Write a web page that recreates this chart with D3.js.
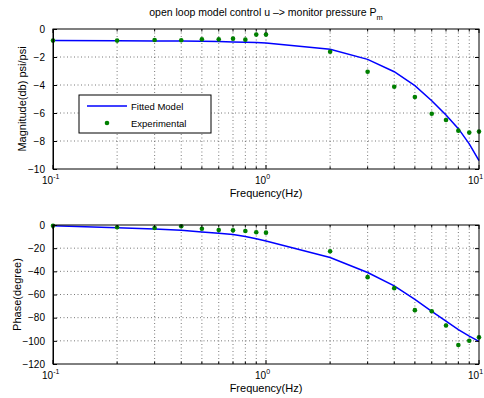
<!DOCTYPE html>
<html>
<head>
<meta charset="utf-8">
<script src="https://cdn.jsdelivr.net/npm/d3@7"></script>
<style>
  body { margin: 0; background: #fff; }
  svg { font-family: "Liberation Sans", Arial, sans-serif; }
  .grid line { stroke: #555; stroke-dasharray: 1,2.5; stroke-width: 0.8; }
</style>
</head>
<body>
<svg id="chart"></svg>
<script>
const freq = [0.1, 0.2, 0.3, 0.4, 0.5, 0.6, 0.7, 0.8, 0.9, 1, 2, 3, 4, 5, 6, 7, 8, 9, 10];

const magModel = [-0.83, -0.84, -0.85, -0.86, -0.88, -0.9, -0.92, -0.94, -0.97, -1.0,
                  -1.45, -2.17, -3.05, -4.05, -5.12, -6.14, -7.12, -8.2, -9.4];
const magExp = [-0.83, -0.83, -0.79, -0.8, -0.74, -0.74, -0.69, -0.76, -0.4, -0.4,
                -1.62, -3.05, -4.12, -4.86, -6.05, -6.5, -7.26, -7.4, -7.33];

const phaseModel = [-0.6, -2.3, -3.4, -4.6, -6, -7.2, -8.3, -10, -11.8, -13.8,
                    -28.1, -41, -52.5, -64.3, -74.5, -83, -90.4, -95.9, -100.5];
const phaseExp = [-0.6, -2, -2.6, -1.1, -3.2, -4.3, -4.6, -5.2, -6.3, -6.6,
                  -22.7, -45, -54.5, -73.5, -74.4, -86.7, -103.6, -99.9, -97];

const magTicks = [0, -2, -4, -6, -8, -10];
const phaseTicks = [0, -20, -40, -60, -80, -100, -120];
const decades = [-1, 0, 1];
const gridFreq = [0.2, 0.3, 0.4, 0.5, 0.6, 0.7, 0.8, 0.9, 1, 2, 3, 4, 5, 6, 7, 8, 9];

const width = 484, height = 398;
const svg = d3.select("#chart").attr("width", width).attr("height", height);

function panel({top, bottom, ydomain, yticks, model, exp, ylabel, ylabelX, legend}) {
  const x = d3.scaleLog().domain([0.1, 10]).range([53, 479]);
  const y = d3.scaleLinear().domain(ydomain).range([bottom, top]);
  const g = svg.append("g");
  const x0 = x.range()[0], x1 = x.range()[1];

  g.append("rect")
    .attr("x", x0).attr("y", top)
    .attr("width", x1 - x0).attr("height", bottom - top)
    .attr("fill", "#fff");

  // grid
  const grid = g.append("g").attr("class", "grid");
  grid.selectAll("line.vx").data(gridFreq).join("line")
    .attr("x1", d => x(d)).attr("x2", d => x(d))
    .attr("y1", top).attr("y2", bottom);
  grid.selectAll("line.hy").data(yticks.slice(1, -1)).join("line")
    .attr("x1", x0).attr("x2", x1)
    .attr("y1", d => y(d)).attr("y2", d => y(d));

  // lines
  const line = d3.line().x((d, i) => x(freq[i])).y(d => y(d));
  g.append("path")
    .datum(model)
    .attr("d", line)
    .attr("fill", "none")
    .attr("stroke", "#0000ff")
    .attr("stroke-width", 1.5);

  g.selectAll("circle.exp").data(exp).join("circle")
    .attr("cx", (d, i) => x(freq[i])).attr("cy", d => y(d))
    .attr("r", 2.3).attr("fill", "#008000");

  // axes box, ticks inside
  const axisY = d3.axisLeft(y).tickValues(yticks).tickSizeInner(-4).tickSizeOuter(0).tickPadding(8)
    .tickFormat(d => d === 0 ? "0" : "\u2212" + Math.abs(d));
  const ya = g.append("g").attr("transform", `translate(${x0},0)`).call(axisY);
  ya.selectAll("text").attr("font-size", 10).attr("font-family", "Liberation Sans, Arial, sans-serif").attr("fill", "#000");
  g.append("g").attr("transform", `translate(${x1},0)`)
    .call(d3.axisRight(y).tickValues(yticks).tickSizeInner(-4).tickSizeOuter(0).tickFormat(""))
    .select(".domain").remove();

  const minor = gridFreq.filter(f => f !== 1);
  [bottom, top].forEach(yy => {
    const dir = yy === bottom ? -1 : 1;
    g.append("g").selectAll("line").data([0.1, 1, 10]).join("line")
      .attr("x1", d => x(d)).attr("x2", d => x(d))
      .attr("y1", yy).attr("y2", yy + dir * 4).attr("stroke", "#000");
    g.append("g").selectAll("line").data(minor).join("line")
      .attr("x1", d => x(d)).attr("x2", d => x(d))
      .attr("y1", yy).attr("y2", yy + dir * 2.5).attr("stroke", "#000");
  });

  g.append("rect")
    .attr("x", x0).attr("y", top).attr("width", x1 - x0).attr("height", bottom - top)
    .attr("fill", "none").attr("stroke", "#000").attr("stroke-width", 1);

  // x tick labels 10^k: base ends at the tick, exponent right of it
  const xl = g.append("g").attr("font-size", 10).attr("fill", "#000");
  decades.forEach(k => {
    const t = xl.append("text").attr("x", x(Math.pow(10, k)) - 11).attr("y", bottom + 15);
    t.append("tspan").text("10");
    t.append("tspan").attr("dy", -5).attr("font-size", 7).text(k);
  });

  g.append("text")
    .attr("x", (x0 + x1) / 2).attr("y", bottom + 28)
    .attr("text-anchor", "middle").attr("font-size", 11)
    .text("Frequency(Hz)");

  g.append("text")
    .attr("transform", `translate(${ylabelX},${(top + bottom) / 2}) rotate(-90)`)
    .attr("text-anchor", "middle").attr("font-size", 11)
    .text(ylabel);

  if (legend) {
    const lg = g.append("g");
    lg.append("rect").attr("x", 79).attr("y", 95).attr("width", 132).attr("height", 38)
      .attr("fill", "#fff").attr("stroke", "#000").attr("stroke-width", 1);
    lg.append("line").attr("x1", 87).attr("x2", 127).attr("y1", 106).attr("y2", 106)
      .attr("stroke", "#0000ff").attr("stroke-width", 1.5);
    lg.append("circle").attr("cx", 107).attr("cy", 123).attr("r", 2.3).attr("fill", "#008000");
    lg.append("text").attr("x", 131).attr("y", 110).attr("font-size", 9.5).text("Fitted Model");
    lg.append("text").attr("x", 131).attr("y", 127).attr("font-size", 9.5).text("Experimental");
  }
}

panel({top: 29, bottom: 169, ydomain: [-10, 0], yticks: magTicks, model: magModel, exp: magExp,
       ylabel: "Magnitude(db) psi/psi", ylabelX: 26, legend: true});
panel({top: 225, bottom: 364, ydomain: [-120, 0], yticks: phaseTicks, model: phaseModel, exp: phaseExp,
       ylabel: "Phase(degree)", ylabelX: 21, legend: false});

const title = svg.append("text").attr("x", 266).attr("y", 16).attr("text-anchor", "middle").attr("font-size", 10.5);
title.append("tspan").text("open loop model control u \u2013> monitor pressure P");
title.append("tspan").attr("dy", 4).attr("font-size", 7.5).text("m");
</script>
</body>
</html>
